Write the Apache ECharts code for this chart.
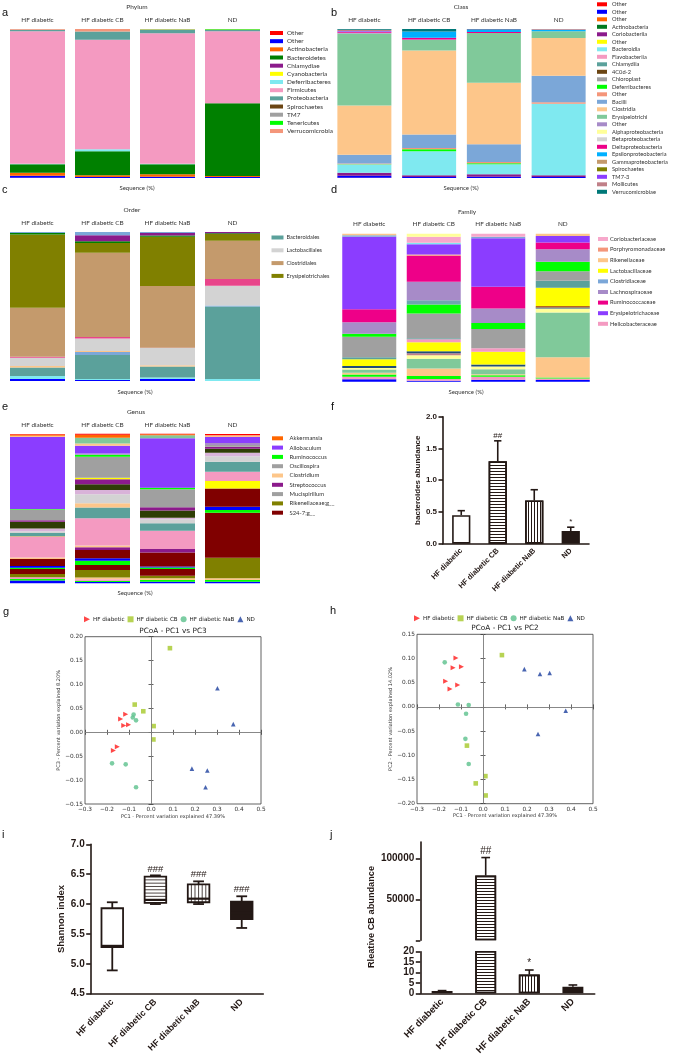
<!DOCTYPE html>
<html><head><meta charset="utf-8">
<script src="https://cdn.jsdelivr.net/npm/echarts@6/dist/echarts.min.js"></script>
<style>html,body{margin:0;padding:0;background:#fff}#c{width:675px;height:1058px}</style>
</head><body><div id="c"></div>
<script>
// ---------------- DATA ----------------
const groups = ['HF diabetic', 'HF diabetic CB', 'HF diabetic NaB', 'ND'];

// Phylum (stack bottom -> top, legend top -> bottom)
const phylumNames = ['Other','Other','Actinobacteria','Bacteroidetes','Chlamydiae','Cyanobacteria','Deferribacteres','Firmicutes','Proteobacteria','Spirochaetes','TM7','Tenericutes','Verrucomicrobia'];
const phylumHF  = [0.2,1.3,2.0,5.8,0,0,0.2,89.0,1.0,0,0,0,0.5];
const phylumCB  = [0,0.7,1.1,16.2,0,0,1.3,73.5,5.6,0,0,0,1.6];
const phylumNaB = [0,0.9,1.6,6.7,0,0,0.4,87.6,2.2,0,0,0.3,0.3];
const phylumND  = [0,0.7,0.7,48.8,0,0,0,48.3,0.8,0,0,0.5,0.2];

// Class
const classNames = ['Other','Other','Other','Actinobacteria','Coriobacteriia','Other','Bacteroidia','Flavobacteriia','Chlamydiia','4C0d-2','Chloroplast','Deferribacteres','Other','Bacilli','Clostridia','Erysipelotrichi','Other','Alphaproteobacteria','Betaproteobacteria','Deltaproteobacteria','Epsilonproteobacteria','Gammaproteobacteria','Spirochaetes','TM7-3','Mollicutes','Verrucomicrobiae'];
const classHF  = [0.2,1.3,0,0,2.0,0,5.6,0,0,0,0,0.2,0.5,5.8,33.0,48.3,0.6,0,0,0.6,0.3,0,0,0.3,0.8,0.5];
const classCB  = [0,0.7,0,0,1.1,0,16.2,0,0,0,0,1.3,0.9,9.0,56.4,7.0,0.3,0,0,1.3,4.2,0,0,0,0,1.6];
const classNaB = [0,0.9,0,0,1.6,0,6.7,0,0,0,0,0.7,0.9,11.9,41.3,33.3,0,0,0,0.7,1.3,0,0,0.3,0,0.4];
const classND  = [0,0.7,0,0,1.1,0,48.1,0,0,0,0,0,0.9,17.8,25.4,4.5,0,0,0,0,1.0,0,0,0,0.5,0];

// Order (stack bottom -> top)
const orderNames = ['Other a','Other b','Bacteroidales','Other c','Other d','Lactobacillales','Other e','Clostridiales','Erysipelotrichales','Other f','Other g','Other h'];
const orderHF  = [1.3,2.0,5.8,0,0.9,5.6,0.7,32.9,49.2,0.9,0,0.7];
const orderCB  = [0.7,0.7,16.1,2.0,0.7,8.3,1.1,56.4,6.7,1.1,4.0,2.2];
const orderNaB = [1.3,1.1,7.4,0,0.7,11.7,0.1,41.5,33.0,0.9,1.6,0.7];
const orderND  = [0,1.3,48.7,0.7,0,13.2,4.5,25.8,4.5,0.4,0.9,0];
const orderLegend = ['Bacteroidales','Lactobacillales','Clostridiales','Erysipelotrichales'];

// Family (stack bottom -> top)
const familyNames = ['f1','f2','f3','Rikenellaceae','f5','f6','f7','f8','f9','Lactobacillaceae','Helicobacteraceae','f12','f13','f14','f15','Lachnospiraceae','Ruminococcaceae','Porphyromonadaceae','Erysipelotrichaceae','Clostridiaceae','f21','Coriobacteriaceae','f23','f24'];
const familyHF  = [1.7,1.6,1.6,1.1,2.3,0.9,0,1.4,0,4.5,0,1.4,13.9,2.0,0,7.7,8.8,0,49.1,0.9,0,0,1.1,0];
const familyCB  = [0.7,1.1,2.0,5.2,6.5,2.3,1.4,1.4,0,6.1,1.9,0.8,16.7,6.1,2.9,12.4,17.6,0.9,6.8,0,1.1,4.1,0,2.0];
const familyNaB = [1.4,2.0,0.9,0.7,3.4,1.8,0,1.4,0,8.6,2.4,0,13.0,4.1,0,9.7,14.7,0,32.8,1.1,0,2.0,0,0];
const familyND  = [1.1,1.1,0.7,13.7,30.2,2.7,0,0.7,0.9,12.4,0,4.7,6.4,6.5,0,8.4,4.5,0,4.5,0,0,0,1.6,0];
const familyLegend = ['Coriobacteriaceae','Porphyromonadaceae','Rikenellaceae','Lactobacillaceae','Clostridiaceae','Lachnospiraceae','Ruminococcaceae','Erysipelotrichaceae','Helicobacteraceae'];

// Genus (stack bottom -> top)
const genusNames = ['g1','g2','g3','g4','Rikenellaceae;g__','S24-7;g__','g7','g8','g9','g10','g11','g12','g13','g14','g15','Clostridium','g17','g18','g19','Streptococcus','g21','Oscillospira','Ruminococcus','g24','Allobaculum','g26','g27','Akkermansia','g29'];
const genusHF  = [1.8,1.1,1.1,0,2.2,3.3,0.9,1.1,4.7,0,0,1.1,13.8,0.4,2.2,0,1.1,1.8,4.5,1.1,0,7.1,0.4,0,48.1,0.9,0,0.7,0.4];
const genusCB  = [0.9,0.7,1.1,1.1,5.1,3.3,2.9,1.6,5.6,0,1.8,1.1,18.3,0,7.1,2.9,6.0,2.9,3.8,3.3,1.1,14.0,1.3,0.9,5.1,1.6,3.8,2.0,0.7];
const genusNaB = [1.1,1.1,0,1.1,1.8,4.5,0.9,0.7,9.4,0,2.4,0,12.2,0,4.9,0,2.7,1.1,4.7,2.2,0,12.0,1.1,0,33.0,0,2.0,0.7,0.4];
const genusND  = [1.1,1.1,0,1.1,13.8,30.1,1.8,2.2,12.2,4.9,0,0,6.2,0,6.7,0,3.8,2.2,2.7,1.3,0,1.3,0,1.3,4.0,1.1,0,0,0.9];
const genusLegend = ['Akkermansia','Allobaculum','Ruminococcus','Oscillospira','Clostridium','Streptococcus','Mucispirillum','Rikenellaceae;g__','S24-7;g__'];

// f: bacteroides abundance
const bactMean = [0.45, 1.30, 0.68, 0.20];
const bactErr  = [0.52, 1.62, 0.85, 0.26];
const bactSig  = ['', '##', '', '*'];

// g: PCoA PC1 vs PC3
const pc13HF  = [[-0.115,0.038],[-0.138,0.028],[-0.124,0.014],[-0.102,0.016],[-0.153,-0.030],[-0.171,-0.038]];
const pc13CB  = [[0.086,0.176],[-0.074,0.058],[-0.035,0.044],[0.012,0.013],[0.011,-0.015]];
const pc13NaB = [[-0.079,0.037],[-0.083,0.031],[-0.068,0.025],[-0.177,-0.065],[-0.115,-0.067],[-0.068,-0.115]];
const pc13ND  = [[0.302,0.092],[0.374,0.017],[0.186,-0.076],[0.256,-0.080],[0.248,-0.115]];
// h: PCoA PC1 vs PC2
const pc12HF  = [[-0.123,0.101],[-0.136,0.081],[-0.098,0.083],[-0.170,0.053],[-0.115,0.045],[-0.150,0.037]];
const pc12CB  = [[0.086,0.107],[-0.073,-0.080],[0.011,-0.143],[-0.033,-0.158],[0.012,-0.183]];
const pc12NaB = [[-0.174,0.092],[-0.114,0.005],[-0.065,0.004],[-0.077,-0.014],[-0.080,-0.066],[-0.065,-0.118]];
const pc12ND  = [[0.188,0.078],[0.259,0.068],[0.303,0.070],[0.376,-0.008],[0.250,-0.056]];

// i: Shannon index  [min, q1, median, q3, max]
const shannonHF  = [4.89, 5.28, 5.30, 5.93, 6.03];
const shannonCB  = [6.00, 6.02, 6.07, 6.46, 6.48];
const shannonNaB = [6.00, 6.03, 6.09, 6.33, 6.38];
const shannonND  = [5.60, 5.75, 5.85, 6.04, 6.13];
const shannonSig = ['', '###', '###', '###'];

// j: relative CB abundance
const cbMean = [1.1, 79000, 9.0, 3.2];
const cbErr  = [1.3, 101000, 11.2, 4.0];
const cbSig  = ['', '##', '*', ''];
const cbBreak = 20;

// ---------------- STYLES ----------------
const phylumColors = ['#FF0000','#0000FF','#FF6600','#008000','#8B1A8B','#FFFF00','#7FE9F0','#F49AC1','#5BA19B','#6B4513','#A0A0A0','#00FF00','#F4967A'];
const classColors = ['#FF0000','#0000FF','#FF6600','#007A1F','#8B1A8B','#FFFF00','#7FE9F0','#F49AC1','#5BA19B','#6B4513','#A0A0A0','#00FF00','#F4967A','#7BA7D8','#FDC68A','#80C99A','#A78BC8','#FFFF99','#D3D3D3','#EE0088','#00B0FF','#C49A6C','#808000','#8B3DFF','#C08088','#007878'];
const orderColors = ['#0000FF','#7FE9F0','#5BA19B','#7BA7D8','#FDC68A','#D3D3D3','#E8458A','#C49A6C','#808000','#008000','#8B1A8B','#7BA7D8'];
const orderLegendColors = ['#5BA19B','#D3D3D3','#C49A6C','#808000'];
const familyColors = ['#0000FF','#F49AC1','#00FF00','#FDC68A','#80C99A','#FFFF99','#C08088','#1F4E79','#B5651D','#FFFF00','#F49AC1','#5BA19B','#A0A0A0','#00FF00','#6CA6B0','#A78BC8','#EE0088','#F4967A','#8B3DFF','#7BA7D8','#7FE9F0','#F7A8CB','#FDC68A','#FFFF99'];
const familyLegendColors = ['#F7A8CB','#F4967A','#FDC68A','#FFFF00','#7BA7D8','#A78BC8','#EE0088','#8B3DFF','#F49AC1'];
const genusColors = ['#0000FF','#00FF00','#F49AC1','#FDC68A','#808000','#800000','#00FF00','#0000FF','#800000','#FFFF00','#8B1A8B','#FDC68A','#F49AC1','#FF9933','#5BA19B','#FDC68A','#D3D3D3','#D9B3D9','#2F3D05','#8B1A8B','#FFFF00','#A0A0A0','#00FF00','#A78BC8','#8B3DFF','#FDC68A','#80C99A','#FF6600','#FF0000'];
const genusLegendColors = ['#FF6600','#8B3DFF','#00FF00','#A0A0A0','#FDC68A','#8B1A8B','#A0A0A0','#808000','#800000'];

const INK = '#231815';
const pcoaColors = ['#FF1A1A','#A5C828','#5BC18C','#1C3F9E'];
const pcoaSymbols = ['path://M0,0L10,5L0,10Z','rect','circle','triangle'];
const hDecal = {symbol:'rect', symbolSize:1, dashArrayX:[1,0], dashArrayY:[1,2], color:INK};
const vDecal = {symbol:'rect', symbolSize:1, dashArrayX:[1,2], dashArrayY:[1,0], color:INK};
const barStyles = [{color:'#fff'},{color:'#fff', decal:hDecal},{color:'#fff', decal:vDecal},{color:INK}];
const boxPattern = ['none','h','v','solid'];

// ---------------- HELPERS ----------------
const BOLD = '"Liberation Sans", Arial, sans-serif';
function txt(x, y, text, font, o) {
  o = o || {};
  const a = o.align || 'center', va = o.va || 'middle';
  return {type:'text', x:x, y:y, rotation:o.rot||0, silent:true, z:10,
    style:{text:text, font:font, fill:o.fill||'#333', textAlign:a, textVerticalAlign:va, align:a, verticalAlign:va}};
}
function legendBlock(names, colors, iconX, iconW, textX, y0, step, fs) {
  const out = [];
  names.forEach((n, i) => {
    const y = y0 + i * step;
    out.push({type:'rect', silent:true, shape:{x:iconX, y:y-2, width:iconW, height:4}, style:{fill:colors[i]}});
    out.push(txt(textX, y, n, fs + 'px Lato', {align:'left', fill:'#333'}));
  });
  return out;
}
function stackSeries(gi, names, colors, bars, barWidth) {
  return names.map((n, k) => ({
    type:'bar', name:'s' + gi + '_' + k, xAxisIndex:gi, yAxisIndex:gi, stack:'st' + gi,
    barWidth:barWidth, silent:true, data:bars.map(b => b[k]), itemStyle:{color:colors[k]}
  }));
}
function stackX(gi, margin) {
  return {type:'category', gridIndex:gi, position:'top', data:groups,
    axisLine:{show:false}, axisTick:{show:false}, splitLine:{show:false},
    axisLabel:{fontFamily:'Lato', fontSize:6.4, color:'#333', margin:margin, interval:0}};
}
function stackY(gi) {
  return {type:'value', gridIndex:gi, min:0, max:100, show:false, splitLine:{show:false}};
}
function gpX(gi, fs, margin) {
  return {type:'category', gridIndex:gi, data:groups,
    axisLine:{lineStyle:{color:INK, width:1.6}},
    axisTick:{alignWithLabel:true, length:4.5, lineStyle:{color:INK, width:1.6}},
    axisLabel:{rotate:45, interval:0, fontFamily:BOLD, fontWeight:'bold', fontSize:fs, color:INK, margin:margin},
    splitLine:{show:false}};
}
function gpY(gi, extra) {
  return Object.assign({type:'value', gridIndex:gi,
    axisLine:{show:true, lineStyle:{color:INK, width:1.6}},
    axisTick:{show:true, length:4.5, lineStyle:{color:INK, width:1.6}},
    splitLine:{show:false},
    nameLocation:'middle',
    nameTextStyle:{fontFamily:BOLD, fontWeight:'bold', color:INK}}, extra);
}
const fmt1 = v => (v < -1e-9 ? '\u2212' : '') + Math.abs(v).toFixed(1);
const fmt2 = v => (v < -1e-9 ? '\u2212' : '') + Math.abs(v).toFixed(2);
function pcX(gi, pos, name) {
  const ax = {type:'value', gridIndex:gi, min:-0.3, max:0.5, interval:0.1, position:pos,
    axisLine:{show:false}, splitLine:{show:false},
    axisTick:{show:true, inside:true, length:2.5, lineStyle:{color:'#3a3a3a', width:0.8}},
    axisLabel:{show:pos === 'bottom', fontFamily:'DejaVu Sans', fontSize:5.8, color:'#333', margin:2.5, formatter:fmt1}};
  if (name) Object.assign(ax, {name:name, nameLocation:'middle', nameGap:10, nameTextStyle:{fontFamily:'DejaVu Sans', fontSize:5, color:'#333'}});
  return ax;
}
function pcY(gi, pos, mn, mx, name) {
  const ax = {type:'value', gridIndex:gi, min:mn, max:mx, interval:0.05, position:pos,
    axisLine:{show:false}, splitLine:{show:false},
    axisTick:{show:true, inside:true, length:2.5, lineStyle:{color:'#3a3a3a', width:0.8}},
    axisLabel:{show:pos === 'left', fontFamily:'DejaVu Sans', fontSize:5.8, color:'#333', margin:2, formatter:fmt2}};
  if (name) Object.assign(ax, {name:name, nameLocation:'middle', nameGap:23, nameTextStyle:{fontFamily:'DejaVu Sans', fontSize:5, color:'#333'}});
  return ax;
}
function errSeries(xi, yi, means, errs, sig, font) {
  return {type:'custom', xAxisIndex:xi, yAxisIndex:yi, silent:true, z:5,
    data: means.map((m, i) => [i, m, errs[i]]),
    renderItem: function (params, api) {
      const i = api.value(0), m = api.value(1), e = api.value(2);
      const cs = params.coordSys;
      const p1 = api.coord([i, m]), p2 = api.coord([i, e]);
      const bottom = cs.y + cs.height;
      if (p1[1] >= bottom - 0.5 || p2[1] < cs.y - 0.5) return null;
      const bw = api.size([1, 0])[0];
      const st = {stroke:INK, lineWidth:1.6};
      const ch = [
        {type:'line', shape:{x1:p1[0], y1:p1[1], x2:p1[0], y2:p2[1]}, style:st},
        {type:'line', shape:{x1:p1[0]-bw*0.1, y1:p2[1], x2:p1[0]+bw*0.1, y2:p2[1]}, style:st}
      ];
      const s = sig[params.dataIndex];
      if (s) ch.push({type:'text', x:p2[0], y:p2[1]-1.5, style:{text:s, font:font, fill:INK, align:'center', verticalAlign:'bottom', textAlign:'center', textVerticalAlign:'bottom'}});
      return {type:'group', children:ch};
    }};
}
function boxRender(params, api) {
  const i = api.value(0);
  const vMin = api.value(1), q1 = api.value(2), med = api.value(3), q3 = api.value(4), vMax = api.value(5);
  const x = api.coord([i, med])[0];
  const yMin = api.coord([i, vMin])[1], yQ1 = api.coord([i, q1])[1], yMed = api.coord([i, med])[1];
  const yQ3 = api.coord([i, q3])[1], yMax = api.coord([i, vMax])[1];
  const bw = api.size([1, 0])[0] * 0.5, cap = bw * 0.5;
  const st = {stroke:INK, lineWidth:1.8};
  const pat = boxPattern[params.dataIndex];
  const ch = [
    {type:'line', shape:{x1:x, y1:yMax, x2:x, y2:yQ3}, style:st},
    {type:'line', shape:{x1:x, y1:yQ1, x2:x, y2:yMin}, style:st},
    {type:'line', shape:{x1:x-cap/2, y1:yMax, x2:x+cap/2, y2:yMax}, style:st},
    {type:'line', shape:{x1:x-cap/2, y1:yMin, x2:x+cap/2, y2:yMin}, style:st},
    {type:'rect', shape:{x:x-bw/2, y:yQ3, width:bw, height:yQ1-yQ3}, style:{fill:pat === 'solid' ? INK : '#fff', stroke:INK, lineWidth:1.8}}
  ];
  if (pat === 'h') {
    for (let y = yQ3 + 3.3; y < yQ1 - 1; y += 3.3)
      ch.push({type:'line', shape:{x1:x-bw/2, y1:y, x2:x+bw/2, y2:y}, style:{stroke:INK, lineWidth:0.8}});
  } else if (pat === 'v') {
    for (let xx = x - bw/2 + 3.6; xx < x + bw/2 - 1; xx += 3.6)
      ch.push({type:'line', shape:{x1:xx, y1:yQ3, x2:xx, y2:yQ1}, style:{stroke:INK, lineWidth:0.8}});
  }
  ch.push({type:'line', shape:{x1:x-bw/2, y1:yMed, x2:x+bw/2, y2:yMed}, style:{stroke:INK, lineWidth:2.2}});
  const s = shannonSig[params.dataIndex];
  if (s) ch.push({type:'text', x:x, y:yMax-1.5, style:{text:s, font:'9.5px ' + BOLD, fill:INK, align:'center', verticalAlign:'bottom', textAlign:'center', textVerticalAlign:'bottom'}});
  return {type:'group', children:ch};
}

// ---------------- OPTION ----------------
const grid = [
  {left:5, top:29, width:260, height:149},
  {left:332, top:29, width:259, height:149},
  {left:5, top:232, width:260, height:149},
  {left:337, top:233.7, width:258, height:148},
  {left:5, top:433.7, width:260, height:149.6},
  {left:443, top:416.7, width:146, height:127},
  {left:85, top:636.7, width:176, height:167.3, show:true, borderColor:'#3a3a3a', borderWidth:0.8},
  {left:417, top:634.3, width:176, height:169.4, show:true, borderColor:'#3a3a3a', borderWidth:0.8},
  {left:90.7, top:844.3, width:172.6, height:149.4},
  {left:420.3, top:842, width:174.4, height:98.3},
  {left:420.3, top:951.7, width:174.4, height:41.6}
].map(g => Object.assign({containLabel:false, outerBoundsMode:'none'}, g));

const xAxis = [
  stackX(0, 6), stackX(1, 6), stackX(2, 6.5), stackX(3, 6.5), stackX(4, 6.2),
  gpX(5, 7.5, 6),
  pcX(6, 'bottom', 'PC1 - Percent variation explained 47.39%'), pcX(6, 'top'),
  pcX(7, 'bottom', 'PC1 - Percent variation explained 47.39%'), pcX(7, 'top'),
  gpX(8, 9, 7),
  {type:'category', gridIndex:9, data:groups, show:false},
  gpX(10, 9.5, 7)
];
const yAxis = [
  stackY(0), stackY(1), stackY(2), stackY(3), stackY(4),
  gpY(5, {min:0, max:2, interval:0.5, name:'bacteroides abundance', nameGap:21,
    nameTextStyle:{fontFamily:BOLD, fontWeight:'bold', fontSize:8, color:INK},
    axisLabel:{fontFamily:BOLD, fontWeight:'bold', fontSize:8, color:INK, margin:6, formatter:v => v.toFixed(1)}}),
  pcY(6, 'left', -0.15, 0.20, 'PC3 - Percent variation explained 8.20%'), pcY(6, 'right', -0.15, 0.20),
  pcY(7, 'left', -0.20, 0.15, 'PC2 - Percent variation explained 14.02%'), pcY(7, 'right', -0.20, 0.15),
  gpY(8, {min:4.5, max:7.0, interval:0.5, name:'Shannon index', nameGap:24,
    nameTextStyle:{fontFamily:BOLD, fontWeight:'bold', fontSize:9.5, color:INK},
    axisLabel:{fontFamily:BOLD, fontWeight:'bold', fontSize:10, color:INK, margin:6, formatter:v => v.toFixed(1)}}),
  gpY(9, {min:0, max:120000,
    axisTick:{show:true, length:4.5, lineStyle:{color:INK, width:1.6}, customValues:[0, 50000, 100000]},
    axisLabel:{fontFamily:BOLD, fontWeight:'bold', fontSize:10, color:INK, margin:6, customValues:[50000, 100000], formatter:v => String(Math.round(v))}}),
  gpY(10, {min:0, max:20, interval:5,
    axisLabel:{fontFamily:BOLD, fontWeight:'bold', fontSize:10, color:INK, margin:6, formatter:v => String(v)}})
];

let series = [];
series = series.concat(stackSeries(0, phylumNames, phylumColors, [phylumHF, phylumCB, phylumNaB, phylumND], 55));
series = series.concat(stackSeries(1, classNames, classColors, [classHF, classCB, classNaB, classND], 54));
series = series.concat(stackSeries(2, orderNames, orderColors, [orderHF, orderCB, orderNaB, orderND], 55));
series = series.concat(stackSeries(3, familyNames, familyColors, [familyHF, familyCB, familyNaB, familyND], 54));
series = series.concat(stackSeries(4, genusNames, genusColors, [genusHF, genusCB, genusNaB, genusND], 55));

// f
series.push({type:'bar', name:'bacteroides', xAxisIndex:5, yAxisIndex:5, barWidth:'50%', silent:true,
  itemStyle:{borderColor:INK, borderWidth:1.6},
  data:bactMean.map((v, i) => ({value:v, itemStyle:barStyles[i]}))});
series.push(errSeries(5, 5, bactMean, bactErr, bactSig, '8px ' + BOLD));

// g & h
const pc13 = [pc13HF, pc13CB, pc13NaB, pc13ND];
const pc12 = [pc12HF, pc12CB, pc12NaB, pc12ND];
groups.forEach((g, k) => {
  const base = {type:'scatter', name:g, symbol:pcoaSymbols[k], symbolSize:k === 0 ? 5 : 4.6, silent:true,
    itemStyle:{color:pcoaColors[k]}};
  series.push(Object.assign({}, base, {xAxisIndex:6, yAxisIndex:6, data:pc13[k], z:4}));
});
groups.forEach((g, k) => {
  const base = {type:'scatter', name:g, symbol:pcoaSymbols[k], symbolSize:k === 0 ? 5 : 4.6, silent:true,
    itemStyle:{color:pcoaColors[k]}};
  series.push(Object.assign({}, base, {xAxisIndex:8, yAxisIndex:8, data:pc12[k], z:4}));
});
[[6, 6], [8, 8]].forEach(([xi, yi]) => {
  series.push({type:'line', xAxisIndex:xi, yAxisIndex:yi, data:[], silent:true, z:1,
    markLine:{silent:true, symbol:'none', animation:false, label:{show:false},
      lineStyle:{color:'#7a7a7a', type:'solid', width:0.9},
      data:[{xAxis:0}, {yAxis:0}]}});
});

// i
series.push({type:'custom', xAxisIndex:10, yAxisIndex:10, silent:true,
  data:[shannonHF, shannonCB, shannonNaB, shannonND].map((s, i) => [i].concat(s)),
  renderItem:boxRender});

// j
series.push({type:'bar', name:'cb upper', xAxisIndex:11, yAxisIndex:11, barWidth:'48%', silent:true,
  itemStyle:{borderColor:INK, borderWidth:1.6},
  data:cbMean.map((v, i) => v > cbBreak ? {value:v, itemStyle:barStyles[i]} : '-')});
series.push(errSeries(11, 11, cbMean, cbErr, cbSig, '10px ' + BOLD));
series.push({type:'bar', name:'cb lower', xAxisIndex:12, yAxisIndex:12, barWidth:'48%', silent:true, clip:true,
  itemStyle:{borderColor:INK, borderWidth:1.6},
  data:cbMean.map((v, i) => ({value:v, itemStyle:barStyles[i]}))});
series.push(errSeries(12, 12, cbMean, cbErr, cbSig, '10px ' + BOLD));

// graphic texts
const LET = '11px "Liberation Sans", Arial, sans-serif';
let graphic = [
  txt(2, 13, 'a', LET, {align:'left', fill:'#111'}), txt(331, 13, 'b', LET, {align:'left', fill:'#111'}),
  txt(2, 190, 'c', LET, {align:'left', fill:'#111'}), txt(331, 190, 'd', LET, {align:'left', fill:'#111'}),
  txt(2, 407, 'e', LET, {align:'left', fill:'#111'}), txt(331, 407, 'f', LET, {align:'left', fill:'#111'}),
  txt(3, 612, 'g', LET, {align:'left', fill:'#111'}), txt(330, 611, 'h', LET, {align:'left', fill:'#111'}),
  txt(2, 835, 'i', LET, {align:'left', fill:'#111'}), txt(330, 835, 'j', LET, {align:'left', fill:'#111'}),
  txt(137, 6.7, 'Phylum', '6.5px Lato'), txt(461, 6.7, 'Class', '6.5px Lato'),
  txt(132, 209.7, 'Order', '6.5px Lato'), txt(467, 212, 'Family', '6.5px Lato'), txt(136, 412.3, 'Genus', '6.5px Lato'),
  txt(137, 188, 'Sequence (%)', '6px Lato'), txt(461, 188, 'Sequence (%)', '6px Lato'),
  txt(135, 391.7, 'Sequence (%)', '6px Lato'), txt(466, 392.3, 'Sequence (%)', '6px Lato'),
  txt(135, 593, 'Sequence (%)', '6px Lato'),
  txt(173, 631, 'PCoA - PC1 vs PC3', '7.3px "DejaVu Sans"', {fill:'#222'}),
  txt(505, 628.5, 'PCoA - PC1 vs PC2', '7.3px "DejaVu Sans"', {fill:'#222'}),
  txt(371.3, 917, 'Rleative CB abundance', 'bold 9.2px ' + BOLD, {rot:Math.PI/2, fill:INK})
];
graphic = graphic.concat(legendBlock(phylumNames, phylumColors, 270, 13, 287, 33, 8.17, 6.4));
graphic = graphic.concat(legendBlock(classNames, classColors, 597, 10, 612, 4.3, 7.5, 5.7));
graphic = graphic.concat(legendBlock(orderLegend, orderLegendColors, 271.5, 12, 286.5, 237.5, 12.8, 5.6));
graphic = graphic.concat(legendBlock(familyLegend, familyLegendColors, 598, 10, 610, 239, 10.6, 5.8));
graphic = graphic.concat(legendBlock(genusLegend, genusLegendColors, 272, 11, 289.5, 438.3, 9.3, 5.9));

const legendBase = {orient:'horizontal', padding:0, itemWidth:6, itemHeight:6, itemGap:3, selectedMode:false,
  data:groups, textStyle:{fontFamily:'DejaVu Sans', fontSize:5.6, color:'#222', padding:[0,0,0,-2]}};

const option = {
  animation:false,
  backgroundColor:'#fff',
  grid:grid, xAxis:xAxis, yAxis:yAxis, series:series,
  legend:[Object.assign({}, legendBase, {left:84, top:616.3}), Object.assign({}, legendBase, {left:414, top:615.3})],
  graphic:{elements:graphic}
};
const chart = echarts.init(document.getElementById('c'), null, {renderer:'canvas', width:675, height:1058});
chart.setOption(option);
</script></body></html>
